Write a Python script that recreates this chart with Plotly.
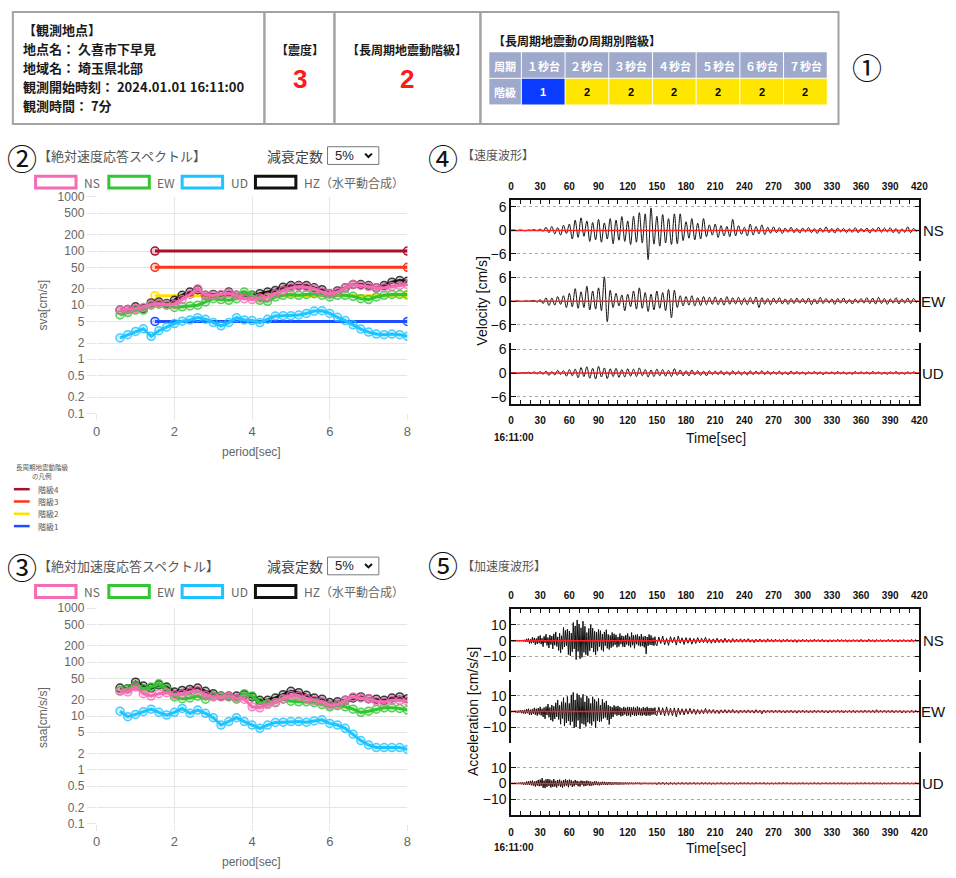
import plotly.graph_objects as go

W, H = 956, 878
JP = "Noto Sans CJK JP"
SANS = "Liberation Sans"


def px(x):
    return x / W


def py(y):
    return 1 - y / H


# ---------------- data ----------------
station_lines = ["【観測地点】", "地点名： 久喜市下早見", "地域名： 埼玉県北部",
                 "観測開始時刻： 2024.01.01 16:11:00", "観測時間： 7分"]
shindo_value = "3"
lp_class_value = "2"
period_bands = ["１秒台", "２秒台", "３秒台", "４秒台", "５秒台", "６秒台", "７秒台"]
band_levels = [1, 2, 2, 2, 2, 2, 2]

periods = [0.6, 0.8, 1.0, 1.2, 1.4, 1.6, 1.8, 2.0, 2.2, 2.4, 2.6, 2.8, 3.0, 3.2,
           3.4, 3.6, 3.8, 4.0, 4.2, 4.4, 4.6, 4.8, 5.0, 5.2, 5.4, 5.6, 5.8, 6.0,
           6.2, 6.4, 6.6, 6.8, 7.0, 7.2, 7.4, 7.6, 7.8, 8.0]

sva_ns = [8.1, 8.3, 8.7, 9.1, 10.4, 10.7, 10.3, 10.4, 12.7, 15.8, 20.1, 15.2, 15.2, 15.8,
          16.8, 15.2, 13.2, 12.7, 13.6, 14.2, 16.3, 18.7, 20.9, 22.1, 21.5, 20.1, 17.5, 16.3,
          17.5, 20.9, 24.1, 23.1, 22.1, 20.9, 20.9, 22.1, 23.1, 24.1]
sva_ew = [6.6, 7.3, 8.1, 8.1, 10.0, 10.4, 10.0, 9.1, 9.3, 9.7, 10.0, 11.5, 13.2, 12.7,
          12.3, 13.2, 17.5, 15.2, 12.3, 11.8, 14.2, 15.2, 15.8, 15.2, 15.8, 16.3, 15.2, 14.2,
          15.2, 15.2, 14.6, 13.2, 12.7, 14.2, 15.2, 15.8, 15.8, 15.8]
sva_ud = [2.48, 2.85, 3.27, 3.66, 2.66, 3.37, 3.93, 4.58, 5.05, 5.34, 5.88, 5.49, 4.77, 4.15,
          4.77, 5.88, 5.34, 5.19, 4.77, 5.49, 6.31, 6.40, 6.40, 6.58, 7.05, 7.78, 7.89, 7.05,
          5.97, 5.19, 4.33, 3.61, 3.18, 2.93, 2.85, 2.93, 2.85, 2.66]
sva_hz = [8.1, 8.3, 9.3, 8.7, 11.0, 11.5, 10.7, 12.3, 15.2, 17.5, 19.3, 15.2, 15.8, 15.2,
          17.5, 15.2, 15.2, 15.2, 16.3, 17.5, 18.7, 21.5, 23.1, 23.1, 23.1, 20.9, 19.3, 16.3,
          18.3, 20.9, 24.1, 24.1, 23.1, 20.9, 23.1, 26.6, 28.5, 27.7]

saa_ns = [28.7, 27.9, 34.4, 26.0, 23.5, 26.0, 27.1, 24.9, 26.0, 27.9, 29.9, 24.2, 22.6, 22.6,
          23.5, 21.6, 20.5, 14.8, 14.2, 16.3, 17.8, 21.0, 24.2, 23.5, 21.0, 19.6, 18.3, 15.9,
          16.3, 19.6, 22.6, 21.6, 21.0, 18.8, 18.3, 19.6, 19.6, 18.8]
saa_ew = [29.9, 32.1, 36.9, 32.1, 34.4, 39.6, 32.1, 22.6, 21.0, 21.6, 23.5, 20.5, 23.5, 23.5,
          22.6, 20.5, 26.0, 23.5, 17.8, 17.1, 17.8, 20.5, 18.8, 18.3, 18.3, 17.8, 16.3, 14.8,
          15.5, 14.8, 13.4, 11.7, 12.3, 13.4, 14.2, 14.2, 13.8, 12.9]
saa_ud = [12.3, 9.7, 10.7, 12.0, 13.4, 11.7, 10.4, 11.7, 13.8, 11.2, 12.9, 11.2, 9.3, 6.8,
          7.9, 9.3, 7.9, 6.8, 5.9, 6.8, 7.6, 7.7, 7.9, 7.9, 7.7, 8.1, 8.5, 7.3,
          6.8, 5.9, 4.6, 3.5, 2.9, 2.6, 2.6, 2.6, 2.6, 2.4]
saa_hz = [33.0, 32.1, 42.5, 35.9, 33.0, 37.9, 34.4, 27.9, 29.9, 31.2, 33.0, 28.7, 26.0, 23.5,
          23.5, 23.5, 24.9, 22.6, 19.6, 19.6, 21.6, 24.9, 28.7, 27.1, 24.2, 21.6, 20.5, 17.8,
          18.3, 19.6, 21.6, 22.6, 21.0, 20.5, 19.6, 21.6, 22.6, 21.0]

level_names = ["階級4", "階級3", "階級2", "階級1"]
level_values = [100, 50, 15, 5]
level_period_span = [1.5, 8.0]

spec_ytickvals = [0.1, 0.2, 0.5, 1, 2, 5, 10, 20, 50, 100, 200, 500, 1000]
spec_yticktext = ["0.1", "0.2", "0.5", "1", "2", "5", "10", "20", "50", "100", "200", "500", "1000"]

# velocity waveforms, sampled every 3 s
vel_dt = 3
vel_ns = [0, 0.1, -0.1, 0.1, 0, -0.1, 0.1, 0, 0.2, -0.1,
          0.3, -0.2, 0.8, -0.6, 1.0, -0.9, 0.7, -1.2, 1.3, -0.8,
          1.6, -2.2, 2.6, -1.8, 3.2, -1.5, 2.4, -2.8, 2.0, -2.4,
          2.8, -3.0, 1.9, -2.2, 3.0, -3.4, 2.6, -2.5, 3.5, -2.8,
          2.4, -3.6, 3.6, -3.0, 4.5, -3.2, 4.2, -7.4, 5.7, -3.5,
          3.6, -4.0, 4.0, -3.2, 3.0, -3.6, 4.2, -3.4, 4.2, -2.6,
          2.2, -2.0, 3.0, -2.4, 1.8, -2.2, 3.0, -1.6, 1.4, -1.2,
          1.6, -1.8, 1.2, -1.4, 1.0, -1.6, 2.8, -1.4, 1.2, -1.0,
          0.8, -1.4, 1.6, -1.2, 1.0, -0.9, 1.4, -1.1, 0.8, -0.7,
          0.9, -0.6, 0.7, -0.8, 0.6, -0.5, 0.8, -0.6, 0.5, -0.7,
          0.6, -0.4, 0.7, -0.6, 0.5, -0.8, 0.6, -0.5, 0.9, -0.6,
          0.5, -0.7, 0.6, -0.4, 0.5, -0.6, 0.4, -0.5, 0.7, -0.6,
          0.5, -0.4, 0.6, -0.7, 0.5, -0.4, 0.8, -0.5, 0.6, -0.4,
          0.7, -0.6, 0.5, -0.8, 0.4, -0.5, 0.9, -0.6, 0.5, -0.3]
vel_ew = [0, -0.1, 0.1, 0, -0.1, 0.1, 0, 0.1, 0.2, -0.2,
          0.4, -0.6, 0.9, -1.1, 0.8, -1.0, 1.2, -0.8, 1.4, -1.6,
          2.0, -1.4, 3.2, -1.8, 2.4, -1.6, 3.8, -2.2, 2.6, -2.0,
          3.4, -2.4, 6.2, -5.2, 2.8, -1.6, 2.0, -1.2, 1.6, -2.4,
          1.8, -1.4, 2.6, -2.0, 3.4, -1.8, 2.2, -2.6, 1.8, -2.2,
          2.6, -1.8, 2.2, -2.4, 3.0, -4.2, 2.8, -1.6, 1.4, -1.2,
          1.2, -1.0, 1.4, -1.2, 0.9, -1.1, 1.2, -0.9, 1.0, -0.8,
          1.1, -0.9, 0.8, -1.0, 1.2, -0.8, 0.9, -0.7, 1.0, -0.9,
          0.8, -0.9, 1.0, -0.7, 1.1, -1.6, 0.9, -0.8, 0.7, -0.9,
          0.8, -0.6, 0.9, -0.7, 0.6, -0.8, 0.7, -0.6, 0.8, -0.5,
          0.7, -0.6, 0.8, -0.9, 0.6, -0.7, 1.0, -0.6, 0.7, -0.5,
          0.6, -0.8, 0.7, -0.5, 0.8, -0.6, 0.5, -0.7, 0.6, -0.5,
          0.7, -0.5, 0.9, -0.6, 0.8, -0.7, 1.0, -0.6, 0.7, -0.8,
          0.6, -0.5, 0.9, -0.7, 0.6, -0.5, 0.8, -0.6, 0.7, -0.4]
vel_ud = [0, 0.1, 0, -0.1, 0.1, 0, 0.2, -0.1, 0.3, -0.2,
          0.4, -0.3, 0.5, -0.6, 0.4, -0.5, 0.7, -0.4, 0.6, -0.8,
          0.9, -0.7, 1.0, -1.2, 1.4, -0.9, 1.6, -1.3, 1.2, -1.5,
          1.7, -1.0, 1.3, -1.4, 1.1, -0.9, 1.2, -1.1, 0.9, -1.0,
          1.1, -0.8, 1.0, -0.9, 1.3, -0.7, 0.9, -1.0, 0.8, -0.9,
          1.0, -0.7, 0.9, -0.8, 0.7, -0.9, 1.1, -0.6, 0.8, -0.7,
          0.6, -0.7, 0.8, -0.5, 0.6, -0.6, 0.5, -0.7, 0.6, -0.4,
          0.5, -0.4, 0.6, -0.5, 0.4, -0.5, 0.6, -0.4, 0.5, -0.5,
          0.4, -0.5, 0.6, -0.4, 0.5, -0.3, 0.6, -0.4, 0.5, -0.4,
          0.4, -0.3, 0.5, -0.4, 0.3, -0.4, 0.5, -0.3, 0.4, -0.3,
          0.3, -0.4, 0.3, -0.2, 0.4, -0.3, 0.3, -0.4, 0.3, -0.2,
          0.3, -0.3, 0.4, -0.2, 0.3, -0.3, 0.2, -0.3, 0.4, -0.2,
          0.3, -0.2, 0.3, -0.3, 0.4, -0.2, 0.3, -0.3, 0.2, -0.3,
          0.3, -0.2, 0.4, -0.3, 0.2, -0.3, 0.3, -0.2, 0.3, -0.1]

# acceleration waveforms: every 1 s for 0-149 s, then every 2 s from 150 s
acc_fast_dt = 1
acc_split = 150
acc_slow_dt = 2
acc_ns_fast = [0.1, -0.1, 0.1, -0.2, 0.2, -0.1, 0.3, -0.2, 0.2, -0.3, 0.4, -0.3, 0.5, -0.4, 0.6,
               -0.8, 1.2, -0.6, 1.4, -1.8, 0.9, -1.6, 2.2, -1.2, 1.8, -2.6, 1.4, -2.0, 2.8, -1.6,
               3.4, -2.2, 1.6, -3.8, 2.8, -1.4, 4.2, -3.0, 2.0, -4.6, 3.6, -2.4, 3.0, -5.2, 4.4,
               -2.8, 5.6, -3.6, 2.4, -6.2, 4.8, -7.8, 3.2, -5.4, 8.4, -4.0, 6.6, -3.2, 7.4, -8.8,
               6.2, -9.6, 4.8, -7.0, 11.6, -5.2, 9.4, -12.0, 13.2, -6.8, 10.6, -11.4, 8.2, -10.6, 12.4,
               -7.4, 9.2, -8.8, 5.2, -9.6, 7.8, -6.4, 10.2, -4.6, 8.0, -7.2, 6.0, -9.0, 5.4, -6.6,
               7.2, -3.8, 6.4, -5.8, 4.2, -6.8, 5.6, -3.2, 7.0, -4.8, 4.0, -5.6, 3.4, -4.4, 5.2,
               -3.6, 4.4, -2.6, 3.8, -4.2, 2.4, -3.6, 4.6, -2.2, 3.2, -3.8, 2.8, -4.0, 3.6, -2.4,
               4.6, -3.2, 2.6, -4.2, 5.2, -2.8, 3.4, -4.8, 3.8, -2.2, 4.0, -3.0, 2.8, -3.6, 4.2,
               -3.4, 2.6, -4.2, 3.0, -8.4, 2.4, -3.2, 4.0, -2.6, 3.4, -2.8, 2.0, -3.2, 2.6, -2.2]
acc_ns_slow = [-3.2, 2.4, -1.8, 3.0, -2.6, 1.6, -3.0, 2.6, -1.4, 2.2, -2.8, 3.0, -1.6, 1.8, -2.4,
               2.0, -1.6, 1.8, -2.2, 1.4, -1.8, 2.0, -1.4, 1.6, -1.2, 2.2, -1.5, 1.3, -1.6, 1.2,
               -1.4, 1.6, -1.2, 1.0, -1.3, 1.5, -1.1, 0.9, -1.2, 1.4, -1.0, 1.1, -0.9, 1.2, -1.0,
               1.1, -0.9, 1.3, -1.0, 0.8, -1.2, 1.0, -0.8, 1.1, -0.9, 0.8, -1.0, 1.2, -0.8, 0.9,
               -0.9, 1.0, -0.7, 0.8, -1.0, 0.9, -0.7, 1.0, -0.8, 0.7, -0.9, 0.8, -1.1, 0.7, -0.8,
               0.9, -0.7, 0.8, -0.9, 0.7, -0.8, 1.0, -0.6, 0.8, -0.7, 0.9, -0.8, 0.6, -0.9, 0.7,
               -0.8, 0.7, -0.6, 0.9, -0.7, 0.8, -0.6, 0.7, -0.9, 0.6, -0.7, 0.8, -0.6, 0.7, -0.8,
               0.9, -0.7, 0.6, -0.8, 1.0, -0.6, 0.7, -0.9, 0.8, -0.6, 0.7, -0.8, 0.6, -0.7, 0.9,
               -0.6, 0.8, -0.7, 0.6, -0.9, 0.7, -0.6, 0.8, -0.7, 0.6, -0.8, 0.9, -0.6, 0.7, -0.5]
acc_ew_fast = [0.2, -0.3, 0.4, -0.2, 0.5, -0.6, 0.4, -0.8, 0.7, -0.5, 0.9, -1.0, 0.8, -1.2, 1.1,
               -1.4, 1.6, -1.0, 1.8, -2.0, 1.2, -2.2, 1.6, -1.4, 2.4, -2.0, 1.8, -2.6, 2.2, -1.8,
               3.0, -2.4, 1.8, -3.4, 2.6, -4.6, 3.2, -2.2, 4.8, -3.6, 2.6, -5.4, 4.2, -6.2, 3.4,
               -4.6, 5.6, -3.4, 7.4, -5.0, 4.0, -8.0, 6.2, -4.4, 8.8, -9.2, 5.6, -7.2, 9.6, -6.0,
               5.2, -8.6, 10.6, -6.4, 12.2, -10.4, 7.4, -9.8, 11.4, -5.6, 10.4, -11.0, 8.8, -7.6, 11.0,
               -8.2, 6.2, -9.4, 10.0, -6.8, 8.4, -7.6, 5.2, -8.8, 9.4, -6.2, 7.8, -10.2, 6.4, -5.8,
               8.4, -6.6, 4.2, -6.2, 7.8, -4.4, 5.6, -3.8, 6.8, -5.2, 4.0, -8.2, 3.4, -4.6, 2.8,
               -3.4, 4.0, -1.8, 3.2, -2.6, 3.6, -2.2, 2.8, -3.0, 2.2, -2.6, 3.0, -1.8, 2.4, -2.8,
               3.0, -2.4, 2.8, -3.2, 2.6, -2.2, 3.0, -2.6, 2.4, -2.8, 3.2, -2.2, 2.6, -2.4, 2.0,
               -2.6, 2.8, -2.2, 2.4, -2.8, 3.0, -2.4, 2.2, -2.6, 2.4, -2.0, 2.2, -1.8, 2.6, -2.2]
acc_ew_slow = [-2.6, 2.8, -2.2, 2.4, -2.8, 3.0, -2.4, 2.2, -2.6, 2.4, -3.4, 2.2, -2.0, 1.8, -2.2,
               1.8, -1.6, 2.0, -1.4, 1.6, -1.8, 1.4, -1.6, 1.2, -1.4, 2.0, -1.2, 1.4, -1.1, 1.3,
               -1.2, 1.0, -1.3, 1.1, -0.9, 1.2, -1.0, 1.1, -0.9, 1.3, -1.0, 0.9, -1.1, 1.0, -0.8,
               1.0, -0.9, 1.1, -0.8, 0.9, -1.0, 1.2, -0.8, 0.9, -1.5, 1.0, -0.8, 0.9, -0.7, 1.0,
               -0.8, 0.9, -0.7, 1.0, -0.8, 0.7, -0.9, 0.8, -0.7, 0.9, -0.8, 0.7, -1.0, 0.8, -0.7,
               0.9, -0.7, 0.8, -0.9, 0.7, -0.8, 0.9, -0.7, 0.8, -0.6, 0.9, -0.8, 0.7, -0.9, 0.8,
               -0.7, 0.8, -0.6, 0.9, -0.7, 0.8, -0.9, 0.7, -0.6, 0.8, -0.7, 0.9, -0.8, 0.7, -0.6,
               0.8, -0.7, 0.9, -0.6, 0.8, -0.7, 0.9, -0.8, 1.2, -0.7, 0.8, -0.6, 0.9, -0.7, 0.8,
               -0.7, 0.9, -0.8, 0.7, -0.6, 0.8, -0.9, 0.7, -0.8, 0.6, -0.7, 0.9, -0.8, 0.7, -0.5]
acc_ud_fast = [0.1, -0.1, 0.2, -0.2, 0.3, -0.2, 0.3, -0.4, 0.5, -0.3, 0.6, -0.5, 0.7, -0.8, 0.6,
               -0.9, 1.2, -0.8, 1.4, -1.0, 1.6, -1.2, 1.8, -1.4, 1.2, -2.0, 1.6, -1.4, 2.2, -1.8,
               2.4, -1.6, 3.4, -2.8, 1.8, -3.0, 2.6, -2.2, 2.8, -1.6, 2.4, -2.6, 1.8, -2.2, 2.8,
               -2.0, 1.6, -2.6, 2.2, -1.4, 2.4, -2.2, 1.6, -2.6, 2.2, -1.8, 2.6, -1.4, 2.0, -2.4,
               2.4, -1.2, 2.0, -2.2, 1.4, -1.8, 2.2, -1.0, 1.6, -1.8, 1.2, -2.0, 1.8, -0.9, 1.6,
               -1.8, 1.4, -1.6, 1.8, -1.2, 1.4, -1.6, 1.2, -1.4, 1.0, -1.2, 1.4, -1.0, 1.2, -1.1,
               1.0, -1.2, 0.9, -1.0, 1.1, -0.8, 1.0, -0.9, 0.8, -1.0, 0.9, -0.7, 0.8, -0.9, 0.7,
               -0.8, 0.7, -0.6, 0.8, -0.7, 0.6, -0.8, 0.7, -0.6, 0.5, -0.7, 0.6, -0.5, 0.6, -0.5,
               0.5, -0.6, 0.5, -0.4, 0.6, -0.5, 0.4, -0.5, 0.6, -0.4, 0.5, -0.4, 0.5, -0.6, 0.4,
               -0.5, 0.4, -0.3, 0.5, -0.4, 0.3, -0.5, 0.4, -0.3, 0.4, -0.5, 0.3, -0.4, 0.5, -0.3]
acc_ud_slow = [-0.8, 0.7, -0.6, 0.8, -0.7, 0.6, -0.8, 0.7, -0.6, 0.5, -0.7, 0.6, -0.5, 0.6, -0.5,
               0.5, -0.6, 0.5, -0.4, 0.6, -0.5, 0.4, -0.5, 0.6, -0.4, 0.5, -0.4, 0.5, -0.6, 0.4,
               -0.5, 0.4, -0.3, 0.5, -0.4, 0.3, -0.5, 0.4, -0.3, 0.4, -0.5, 0.3, -0.4, 0.5, -0.3,
               0.4, -0.3, 0.5, -0.4, 0.3, -0.4, 0.5, -0.3, 0.4, -0.3, 0.5, -0.4, 0.3, -0.4, 0.3,
               -0.4, 0.3, -0.3, 0.4, -0.3, 0.5, -0.3, 0.4, -0.3, 0.3, -0.4, 0.3, -0.4, 0.3, -0.3,
               0.4, -0.3, 0.3, -0.4, 0.3, -0.3, 0.4, -0.3, 0.3, -0.4, 0.3, -0.2, 0.4, -0.3, 0.3,
               -0.3, 0.4, -0.3, 0.3, -0.2, 0.4, -0.3, 0.3, -0.4, 0.3, -0.3, 0.2, -0.3, 0.4, -0.3,
               0.3, -0.3, 0.4, -0.2, 0.3, -0.3, 0.4, -0.3, 0.3, -0.2, 0.3, -0.4, 0.3, -0.3, 0.2,
               -0.3, 0.4, -0.2, 0.3, -0.3, 0.2, -0.3, 0.4, -0.2, 0.3, -0.3, 0.2, -0.3, 0.3, -0.2]

wave_time_range = [0, 420]
wave_baseline = [0, 0]
wave_components = ["NS", "EW", "UD"]
time_ticks = [0, 30, 60, 90, 120, 150, 180, 210, 240, 270, 300, 330, 360, 390, 420]

# ---------------- styles ----------------
C_NS, C_EW, C_UD, C_HZ = "#f66bb3", "#33c633", "#1ec4ff", "#111111"
LEVEL_COLORS = ["#a8102c", "#ff3414", "#ffe000", "#1e4dff"]
HEAD_BG = "#9ea9cb"
LEVEL_CELL = {1: ("#0a3cff", "white"), 2: ("#ffe600", "black")}


def rgba(hexc, a):
    h = hexc.lstrip("#")
    return "rgba(%d,%d,%d,%.2f)" % (int(h[0:2], 16), int(h[2:4], 16), int(h[4:6], 16), a)


def vel_series(vals):
    return [vel_dt * i for i in range(len(vals))], vals


def acc_series(fast, slow):
    t = [acc_fast_dt * i for i in range(len(fast))] + \
        [acc_split + acc_slow_dt * i for i in range(len(slow))]
    return t, fast + slow


fig = go.Figure()
shapes, ann = [], []


def text(x, y, s, size=13, color="#222", xanchor="left", family=JP, bold=False,
         angle=0, yanchor="middle"):
    ann.append(dict(x=px(x), y=py(y), xref="paper", yref="paper", text=s, showarrow=False,
                    xanchor=xanchor, yanchor=yanchor, textangle=angle,
                    font=dict(size=size, color=color, family=family,
                              weight="bold" if bold else "normal")))


def rect(x0, y0, x1, y1, line=None, lw=1, fill=None):
    shapes.append(dict(type="rect", xref="paper", yref="paper",
                       x0=px(x0), x1=px(x1), y0=py(y1), y1=py(y0),
                       line=dict(color=line if line else "rgba(0,0,0,0)", width=lw if line else 0),
                       fillcolor=fill if fill else "rgba(0,0,0,0)", layer="above"))


def hline(x0, x1, y, color, w):
    shapes.append(dict(type="line", xref="paper", yref="paper", x0=px(x0), x1=px(x1),
                       y0=py(y), y1=py(y), line=dict(color=color, width=w)))


# ---------------- section 1: info header ----------------
for (a, b) in [(9, 264), (264, 335), (335, 483), (483, 846)]:
    rect(a, 5, b, 119, line="#a3a3a3", lw=2)
for i, s in enumerate(station_lines):
    text(17, 23 + i * 19.2, s, size=13, bold=True, color="#1a1a1a")
text(300, 43, "【震度】", size=12, xanchor="center", bold=True, color="#1a1a1a")
text(300, 73, shindo_value, size=26, xanchor="center", bold=True, color="#ff1a1a", family=SANS)
text(409, 43, "【長周期地震動階級】", size=12, xanchor="center", bold=True, color="#1a1a1a")
text(409, 73, lp_class_value, size=26, xanchor="center", bold=True, color="#ff1a1a", family=SANS)
text(494, 34, "【長周期地震動の周期別階級】", size=12, bold=True, color="#1a1a1a")

rect(492, 46, 524, 72, fill=HEAD_BG)
rect(492, 73, 524, 99, fill=HEAD_BG)
text(508, 59.5, "周期", size=11, xanchor="center", bold=True, color="white")
text(508, 86.5, "階級", size=11, xanchor="center", bold=True, color="white")
cw = 44.3
for i, (lab, lv) in enumerate(zip(period_bands, band_levels)):
    x0 = 525 + i * cw
    rect(x0, 46, x0 + cw - 1, 72, fill=HEAD_BG)
    text(x0 + (cw - 1) / 2, 59.5, lab, size=11, xanchor="center", bold=True, color="white")
    bg, fg = LEVEL_CELL[lv]
    rect(x0, 73, x0 + cw - 1, 99, fill=bg)
    text(x0 + (cw - 1) / 2, 86.5, str(lv), size=11, xanchor="center", bold=True, color=fg,
         family=SANS)

# circled numbers
text(875, 60, "①", size=30, xanchor="center", color="#111", family=JP)
text(18, 152, "②", size=30, xanchor="center", color="#111", family=JP)
text(18, 568, "③", size=30, xanchor="center", color="#111", family=JP)
text(445, 152, "④", size=30, xanchor="center", color="#111", family=JP)
text(445, 566, "⑤", size=30, xanchor="center", color="#111", family=JP)

# ---------------- spectra ----------------
spec_cfg = [
    dict(ax="", top=193, bot=413, title="【絶対速度応答スペクトル】", ty=151, ly=178,
         ylab="sva[cm/s]", ylab_y=303, xlab_y=452,
         series=[(sva_hz, C_HZ), (sva_ud, C_UD), (sva_ew, C_EW), (sva_ns, C_NS)], levels=True),
    dict(ax="2", top=611, bot=830, title="【絶対加速度応答スペクトル】", ty=568, ly=594,
         ylab="saa[cm/s/s]", ylab_y=722, xlab_y=869,
         series=[(saa_hz, C_HZ), (saa_ud, C_UD), (saa_ew, C_EW), (saa_ns, C_NS)], levels=False),
]
layout_axes = {}
for cfg in spec_cfg:
    xa, ya = "x" + cfg["ax"], "y" + cfg["ax"]
    if cfg["levels"]:
        for val, col in zip(level_values, LEVEL_COLORS):
            fig.add_trace(go.Scatter(x=level_period_span, y=[val, val], xaxis=xa, yaxis=ya,
                                     mode="lines+markers", line=dict(color=col, width=3),
                                     marker=dict(size=8, color=rgba(col, 0.2),
                                                 line=dict(color=col, width=1.5)),
                                     showlegend=False))
    for vals, col in cfg["series"]:
        fig.add_trace(go.Scatter(x=periods, y=vals, xaxis=xa, yaxis=ya, mode="lines+markers",
                                 line=dict(color=col, width=3),
                                 marker=dict(size=8, color=rgba(col, 0.22),
                                             line=dict(color=rgba(col, 0.8), width=1.5)),
                                 showlegend=False))
    layout_axes["xaxis" + cfg["ax"]] = dict(
        domain=[px(94), px(409)], anchor=ya, range=[0, 8], dtick=2, tick0=0,
        showgrid=True, gridcolor="#e6e6e6", zeroline=False, showline=False,
        ticks="outside", ticklen=6, tickcolor="#e6e6e6",
        tickfont=dict(size=13, color="#666", family=SANS), fixedrange=True)
    layout_axes["yaxis" + cfg["ax"]] = dict(
        domain=[py(cfg["bot"]), py(cfg["top"])], anchor=xa, type="log", range=[-1, 3],
        tickvals=spec_ytickvals, ticktext=spec_yticktext, showgrid=True, gridcolor="#e6e6e6",
        zeroline=False, showline=False, ticks="outside", ticklen=9, tickcolor="#e6e6e6",
        tickfont=dict(size=12, color="#666", family=SANS), fixedrange=True)
    # headings
    text(32, cfg["ty"], cfg["title"], size=13, color="#555")
    text(265, cfg["ty"], "減衰定数", size=14, color="#444")
    yy = cfg["ty"]
    shapes.append(dict(type="rect", xref="paper", yref="paper", x0=px(328), x1=px(380),
                       y0=py(yy + 9), y1=py(yy - 9), line=dict(color="#7a7a7a", width=1),
                       fillcolor="white"))
    text(334, yy, "5%", size=13, color="#222", family=SANS)
    shapes.append(dict(type="path", xref="paper", yref="paper",
                       path="M %f %f L %f %f L %f %f" % (px(366), py(yy - 2), px(369.5), py(yy + 1.5),
                                                          px(373), py(yy - 2)),
                       line=dict(color="#111", width=2)))
    # legend
    for i, (lab, col) in enumerate([("NS", C_NS), ("EW", C_EW), ("UD", C_UD),
                                    ("HZ（水平動合成）", C_HZ)]):
        bx = 32 + i * 74.3
        rect(bx, cfg["ly"] - 6, bx + 41, cfg["ly"] + 6, line=col, lw=3, fill="white")
        text(bx + 47, cfg["ly"], lab, size=12, color="#666", family=JP)
    # axis titles
    text(40, cfg["ylab_y"], cfg["ylab"], size=12, color="#666", xanchor="center", angle=-90,
         family=SANS)
    text(251, cfg["xlab_y"], "period[sec]", size=12, color="#666", xanchor="center", family=SANS)

# long-period level legend
text(39, 467, "長周期地震動階級", size=6.5, color="#555", xanchor="center")
text(39, 477, "の凡例", size=6.5, color="#555", xanchor="center")
for i, (nm, col) in enumerate(zip(level_names, LEVEL_COLORS)):
    yy = 490 + i * 12.5
    hline(10, 26, yy, col, 2.5)
    text(32, yy, nm, size=8, color="#555")

# ---------------- waveforms ----------------
wave_cfg = [
    dict(start=3, centers=[227, 299, 372], half=31, rng=7.75, ticks=[-6, 0, 6],
         ticktext=["−6", "0", "6"],
         data=[vel_series(vel_ns), vel_series(vel_ew), vel_series(vel_ud)], shape="spline",
         title="【速度波形】", ty=150, ylab="Velocity [cm/s]", ylab_x=485, time_y=438),
    dict(start=6, centers=[644, 716, 789], half=32, rng=20, ticks=[-10, 0, 10],
         ticktext=["−10", "0", "10"],
         data=[acc_series(acc_ns_fast, acc_ns_slow), acc_series(acc_ew_fast, acc_ew_slow),
               acc_series(acc_ud_fast, acc_ud_slow)], shape="linear",
         title="【加速度波形】", ty=568, ylab="Acceleration [cm/s/s]", ylab_x=475, time_y=855),
]
for cfg in wave_cfg:
    for k in range(3):
        n = cfg["start"] + k
        xa, ya = "x%d" % n, "y%d" % n
        tt, vals = cfg["data"][k]
        fig.add_trace(go.Scatter(x=tt, y=vals, xaxis=xa, yaxis=ya, mode="lines",
                                 line=dict(color="#111", width=1, shape=cfg["shape"]),
                                 showlegend=False))
        fig.add_trace(go.Scatter(x=wave_time_range, y=wave_baseline, xaxis=xa, yaxis=ya,
                                 mode="lines", line=dict(color="#ff2020", width=1.5),
                                 showlegend=False))
        c = cfg["centers"][k]
        xdict = dict(domain=[px(514), px(928)], anchor=ya, range=wave_time_range,
                     showgrid=False, zeroline=False, fixedrange=True)
        if k == 0 or k == 2:
            xdict.update(side="top" if k == 0 else "bottom", showline=True, linecolor="#111",
                         linewidth=1.5, ticks="inside", ticklen=4, tickcolor="#111",
                         tickvals=time_ticks, ticklabelstandoff=4 if k == 0 else 7,
                         tickfont=dict(size=10, color="#111", family=SANS, weight="bold"),
                         minor=dict(dtick=10, tick0=0, ticks="inside", ticklen=4,
                                    tickcolor="#111", showgrid=False))
        else:
            xdict.update(showline=False, showticklabels=False, ticks="")
        layout_axes["xaxis%d" % n] = xdict
        layout_axes["yaxis%d" % n] = dict(
            domain=[py(c + cfg["half"]), py(c - cfg["half"])], anchor=xa,
            range=[-cfg["rng"], cfg["rng"]], tickvals=cfg["ticks"], ticktext=cfg["ticktext"],
            showline=True, linecolor="#111", linewidth=1.5, mirror="ticks", ticks="inside",
            ticklen=5, tickcolor="#111", showgrid=True, gridcolor="#aaaaaa", griddash="dot",
            gridwidth=1, zeroline=False, fixedrange=True,
            tickfont=dict(size=14, color="#111", family=SANS))
        text(942, c, wave_components[k], size=15, color="#111", xanchor="center", family=SANS)
    text(462, cfg["ty"], cfg["title"], size=12, color="#555")
    text(cfg["ylab_x"], cfg["centers"][1], cfg["ylab"], size=14, color="#111", xanchor="center",
         angle=-90, family=SANS)
    text(517, cfg["time_y"] - 1, "16:11:00", size=10, color="#111", xanchor="center",
         family=SANS, bold=True)
    text(722, cfg["time_y"], "Time[sec]", size=14, color="#111", xanchor="center", family=SANS)

fig.update_layout(width=W, height=H, margin=dict(l=0, r=0, t=0, b=0),
                  paper_bgcolor="white", plot_bgcolor="white", showlegend=False,
                  shapes=shapes, annotations=ann, **layout_axes)
fig.write_html("out.html", config={"displayModeBar": False},
               post_script="document.body.style.margin='0px';"
                           "document.body.style.overflow='hidden';")
